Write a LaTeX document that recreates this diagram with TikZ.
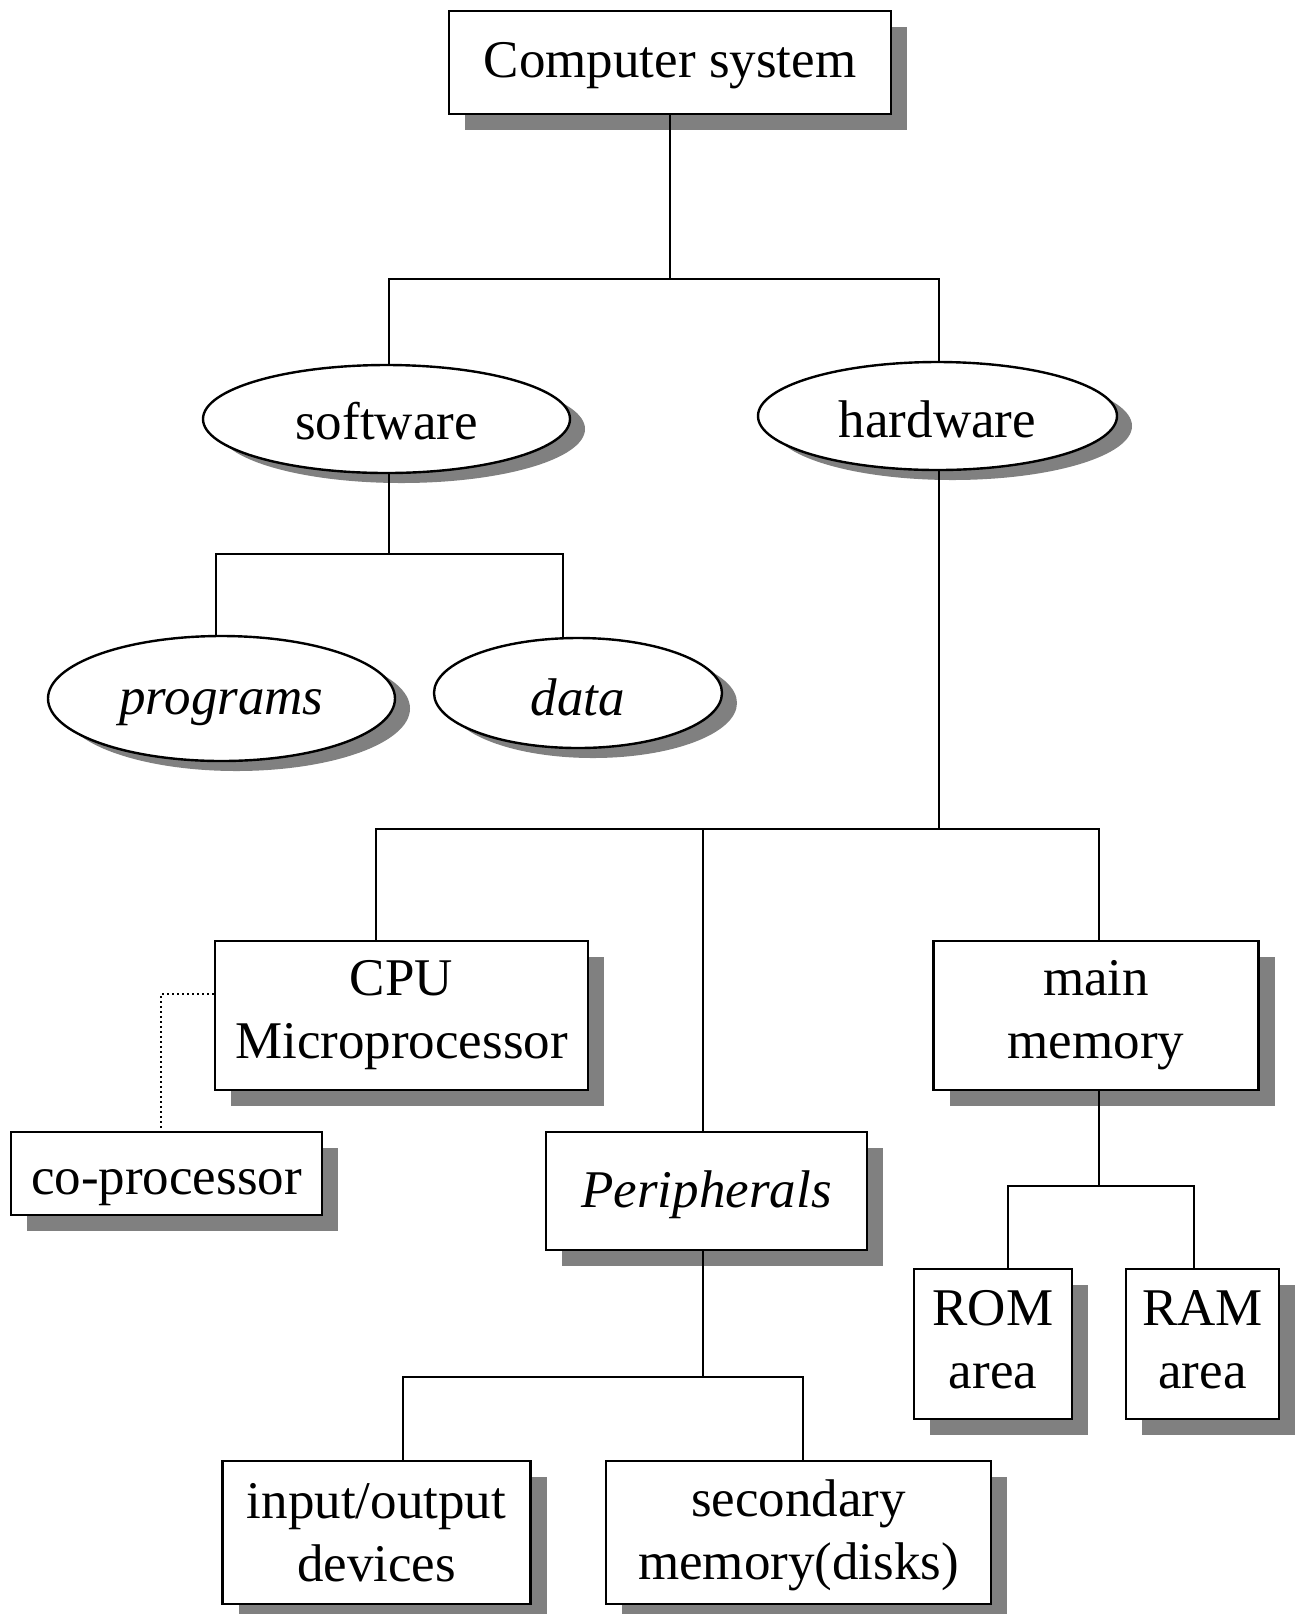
\documentclass[tikz,border=0pt]{standalone}
\usepackage{fontspec}
\setmainfont{Liberation Serif}
\usetikzlibrary{shapes.geometric,shadows}
\definecolor{shade}{RGB}{128,128,128}
% lower a label inside its node without changing its size
\newcommand\lowered[2]{\raisebox{-#1}[\height][\depth]{#2}}
% two centred lines set with struts
\newcommand\pair[2]{\begin{tabular}{@{}c@{}}#1\\#2\end{tabular}}
\begin{document}
\begin{tikzpicture}[x=0.5pt,y=-0.5pt,
  every node/.style={font=\fontsize{26.5}{31.5}\selectfont, align=center, inner sep=0pt},
  box/.style={draw, line width=1.2pt, fill=white, rectangle,
    drop shadow={shadow xshift=8pt, shadow yshift=-8pt, fill=shade, opacity=1}},
  oval/.style={draw, line width=1.2pt, fill=white, ellipse,
    drop shadow={shadow xshift=7.5pt, shadow yshift=-5pt, fill=shade, opacity=1}},
  link/.style={line width=1pt},
  weak/.style={line width=1.1pt, dash pattern=on 1.1pt off 1.4pt}]
\useasboundingbox (0,0) rectangle (1299,1614);

% nodes of the tree
\node[box, minimum width=221pt, minimum height=51.5pt] (cs) at (670,62.5) {\lowered{1.5pt}{Computer system}};
\node[oval, minimum width=183.5pt, minimum height=54pt] (sw) at (386.5,419) {\lowered{1pt}{software}};
\node[oval, minimum width=179.5pt, minimum height=54pt] (hw) at (937.5,416) {\lowered{1.5pt}{hardware}};
\node[oval, minimum width=173.5pt, minimum height=62.5pt] (pr) at (221.5,698.5) {\lowered{4.5pt}{\itshape programs}};
\node[oval, minimum width=144pt, minimum height=55pt] (da) at (578,693) {\lowered{2pt}{\itshape data}};
\node[box, minimum width=186.5pt, minimum height=74.5pt] (cpu) at (401.5,1015.5) {CPU\\Microprocessor};
\node[box, minimum width=162.5pt, minimum height=74.5pt] (mm) at (1096,1015.5) {main\\memory};
\node[box, minimum width=160.5pt, minimum height=59pt] (per) at (706.5,1191) {\lowered{2pt}{\itshape Peripherals}};
\node[box, minimum width=155.5pt, minimum height=41.5pt] (cop) at (166.5,1173.5) {\lowered{7pt}{co-processor}};
\node[box, minimum width=79pt, minimum height=75pt] (rom) at (993,1344) {\pair{ROM}{area}};
\node[box, minimum width=76.5pt, minimum height=75pt] (ram) at (1202.5,1344) {\pair{RAM}{area}};
\node[box, minimum width=154pt, minimum height=71.5pt] (io) at (376.5,1532.5) {input/output\\devices};
\node[box, minimum width=192.5pt, minimum height=71.5pt] (sec) at (798.5,1532.5) {\lowered{1.5pt}{\pair{secondary}{memory(disks)}}};

% branching points
\coordinate (b1l) at (389,279);  \coordinate (b1r) at (939,279);
\coordinate (b2s) at (389,554);  \coordinate (b2l) at (216,554);  \coordinate (b2r) at (563,554);
\coordinate (b3s) at (939,829);  \coordinate (b3l) at (376,829);  \coordinate (b3m) at (703,829);
\coordinate (b3r) at (1099,829);
\coordinate (b4s) at (1099,1186); \coordinate (b4l) at (1008,1186); \coordinate (b4r) at (1194,1186);
\coordinate (b5s) at (703,1377); \coordinate (b5l) at (403,1377); \coordinate (b5r) at (803,1377);
\coordinate (dk) at (161,994);

% connectors
\draw[link] (cs.south) -- (cs.south |- b1l);
\draw[link] (b1l |- sw.north) -- (b1l) -- (b1r) -- (b1r |- hw.north);
\draw[link] (b2s |- sw.south) -- (b2s);
\draw[link] (b2l |- pr.north) -- (b2l) -- (b2r) -- (b2r |- da.north);
\draw[link] (b3s |- hw.south) -- (b3s);
\draw[link] (b3l |- cpu.north) -- (b3l) -- (b3r) -- (b3r |- mm.north);
\draw[link] (b3m) -- (b3m |- per.north);
\draw[link] (b4s |- mm.south) -- (b4s);
\draw[link] (b4l |- rom.north) -- (b4l) -- (b4r) -- (b4r |- ram.north);
\draw[link] (b5s |- per.south) -- (b5s);
\draw[link] (b5l |- io.north) -- (b5l) -- (b5r) -- (b5r |- sec.north);
\draw[weak] (cpu.west |- dk) -- (dk) -- (dk |- cop.north);
\end{tikzpicture}
\end{document}
